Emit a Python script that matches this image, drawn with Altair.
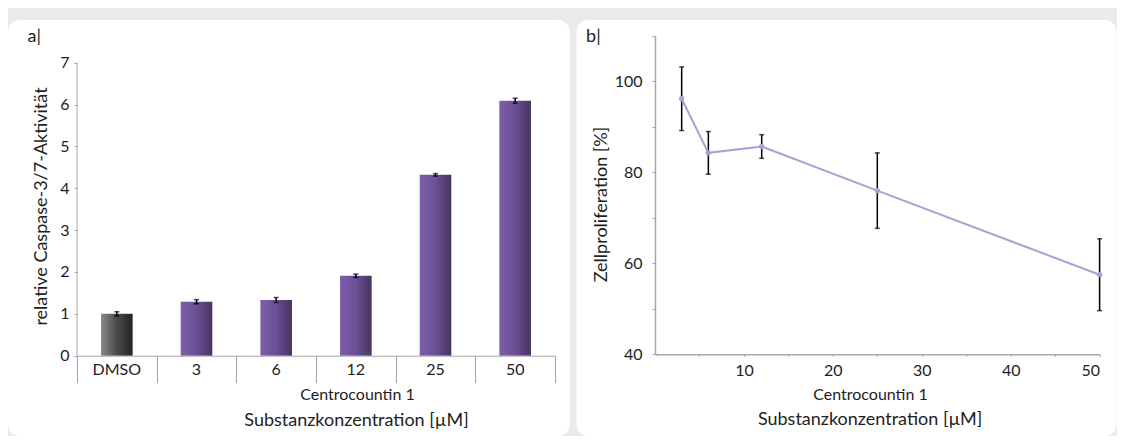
import altair as alt
import pandas as pd

# ---- data ----
categories = ["DMSO", "3", "6", "12", "25", "50"]
caspase = [1.00, 1.29, 1.33, 1.91, 4.32, 6.09]
caspase_err = [0.05, 0.05, 0.06, 0.04, 0.03, 0.06]

conc = [3, 6, 12, 25, 50]
prolif = [96.2, 84.3, 85.7, 76.0, 57.5]
prolif_err = [7.0, 4.7, 2.6, 8.3, 7.9]

y_ticks_a = [0, 1, 2, 3, 4, 5, 6, 7]
y_ticks_b = [40, 50, 60, 70, 80, 90, 100, 110]
x_ticks_b = [5, 10, 15, 20, 25, 30, 35, 40, 45, 50]

FONT = "Lato"
GREY = "#a6a6a6"
TXT = "#1e1e1e"
LINE = "#ad9fd3"

df_a = pd.DataFrame({"cat": categories, "val": caspase, "err": caspase_err})
df_b = pd.DataFrame({"conc": conc, "val": prolif, "err": prolif_err})

# ---------------- panel a ----------------
# plot area top is shared with panel b; the axis line itself stops at 7
WA, HA = 478, 319.7
xs_a = alt.Scale(domain=categories, paddingInner=0, paddingOuter=0)
ys_a = alt.Scale(domain=[0, 7.637], nice=False, zero=False)
y_axis_a = alt.Axis(title="relative Caspase-3/7-Aktivität", values=y_ticks_a, grid=False,
                    domain=False, tickColor=GREY, tickSize=3, labelPadding=5,
                    labelFontSize=16, titleFontSize=18, titleX=-36, titleY=170,
                    titleAngle=270, titleAlign="center", titleBaseline="middle", zindex=1)

bg_a = alt.Chart(alt.Data(values=[{}])).mark_rect(color="white", cornerRadius=12).encode(
    x=alt.value(-69), x2=alt.value(493), y=alt.value(-16), y2=alt.value(400))

yline_a = alt.Chart(alt.Data(values=[{}])).mark_rule(color=GREY, strokeWidth=1).encode(
    x=alt.value(0), y=alt.Y(datum=0, scale=ys_a, axis=y_axis_a), y2=alt.datum(7))

base_a = alt.Chart(df_a)

purple = alt.LinearGradient(gradient="linear", x1=0, x2=1, y1=0, y2=0, stops=[
    alt.GradientStop(color="#7d5ea8", offset=0),
    alt.GradientStop(color="#6a5096", offset=0.5),
    alt.GradientStop(color="#45345f", offset=1)])
greyg = alt.LinearGradient(gradient="linear", x1=0, x2=1, y1=0, y2=0, stops=[
    alt.GradientStop(color="#8a8a8a", offset=0),
    alt.GradientStop(color="#4a4a4a", offset=0.5),
    alt.GradientStop(color="#222222", offset=1)])

dmso = base_a.transform_filter("datum.cat == 'DMSO'").mark_bar(color=greyg, width=31.6).encode(
    x=alt.X("cat:N", scale=xs_a, axis=alt.Axis(
        orient="bottom", title="Centrocountin 1", domain=False, labels=False, ticks=True,
        tickBand="extent", tickSize=27, tickColor=GREY, titleFontSize=16,
        titleX=280, titleY=39, titleAlign="center", titleBaseline="middle", zindex=1)),
    y=alt.Y("val:Q", scale=ys_a, axis=y_axis_a))

bars = base_a.transform_filter("datum.cat != 'DMSO'").mark_bar(color=purple, width=31.6).encode(
    x=alt.X("cat:N", scale=xs_a, axis=alt.Axis(
        orient="bottom", title="Substanzkonzentration [µM]", ticks=False, labelAngle=0,
        labelPadding=13.6, labelBaseline="middle", labelFontSize=16, domainColor=GREY,
        titleFontSize=18, titleX=279, titleY=65, titleAlign="center",
        titleBaseline="middle", zindex=1)),
    y=alt.Y("val:Q", scale=ys_a, axis=y_axis_a))

err_rule_a = base_a.transform_calculate(
    lo="datum.val - datum.err", hi="datum.val + datum.err").mark_rule(
    color="black", strokeWidth=1.5).encode(
    x=alt.X("cat:N", scale=xs_a, axis=alt.Axis(
        orient="top", title="a|", domain=False, labels=False, ticks=False, titleFontSize=18,
        titleX=-50, titleY=0, titleAlign="left", titleBaseline="middle", zindex=1)),
    y=alt.Y("lo:Q", scale=ys_a, axis=y_axis_a), y2="hi:Q")

err_tick_a = base_a.transform_calculate(
    lo="datum.val - datum.err", hi="datum.val + datum.err").transform_fold(
    ["lo", "hi"], as_=["k", "v"]).mark_tick(
    color="black", orient="horizontal", size=5, thickness=1.5).encode(
    x=alt.X("cat:N", scale=xs_a, axis=None),
    y=alt.Y("v:Q", scale=ys_a, axis=y_axis_a))

panel_a = alt.layer(bg_a, yline_a, dmso, bars, err_rule_a, err_tick_a).resolve_axis(
    x="independent").properties(width=WA, height=HA)

# ---------------- panel b ----------------
WB, HB = 444.6, 318.3
xs_b = alt.Scale(domain=[0, 50], nice=False, zero=False)
ys_b = alt.Scale(domain=[40, 110], nice=False, zero=False)
y_axis_b = alt.Axis(title="Zellproliferation [%]", values=y_ticks_b,
                    labelExpr="datum.value % 20 == 0 ? datum.label : ''", grid=False,
                    domainColor=GREY, domainWidth=1.5, tickColor=GREY, tickSize=3,
                    labelPadding=10, labelFontSize=16, titleFontSize=18,
                    titleX=-54, titleY=168, titleAngle=270, titleAlign="center",
                    titleBaseline="middle", zindex=1)

bg_b = alt.Chart(alt.Data(values=[{}])).mark_rect(color="white", cornerRadius=12).encode(
    x=alt.value(-78.4), x2=alt.value(461.6), y=alt.value(-16), y2=alt.value(400))

base_b = alt.Chart(df_b)

line_b = base_b.mark_line(color=LINE, strokeWidth=2).encode(
    x=alt.X("conc:Q", scale=xs_b, axis=alt.Axis(
        orient="bottom", title="Substanzkonzentration [µM]", values=x_ticks_b,
        labelExpr="datum.value % 10 == 0 ? datum.label : ''", grid=False,
        domainColor=GREY, domainWidth=1.5, tickColor=GREY, tickSize=2,
        labelPadding=13.7, labelBaseline="middle", labelFontSize=16,
        titleFontSize=18, titleX=214.6, titleY=65.5, titleAlign="center",
        titleBaseline="middle", zindex=1)),
    y=alt.Y("val:Q", scale=ys_b, axis=y_axis_b))

pts_b = base_b.mark_point(filled=True, size=28, color=LINE, opacity=1).encode(
    x=alt.X("conc:Q", scale=xs_b, axis=alt.Axis(
        orient="bottom", title="Centrocountin 1", domain=False, labels=False, ticks=False,
        grid=False, titleFontSize=16, titleX=215, titleY=40, titleAlign="center",
        titleBaseline="middle", zindex=1)),
    y=alt.Y("val:Q", scale=ys_b, axis=y_axis_b))

err_rule_b = base_b.transform_calculate(
    lo="datum.val - datum.err", hi="datum.val + datum.err").mark_rule(
    color="black", strokeWidth=1.5).encode(
    x=alt.X("conc:Q", scale=xs_b, axis=alt.Axis(
        orient="top", title="b|", domain=False, labels=False, ticks=False, grid=False,
        titleFontSize=18, titleX=-69.4, titleY=0, titleAlign="left",
        titleBaseline="middle", zindex=1)),
    y=alt.Y("lo:Q", scale=ys_b, axis=y_axis_b), y2="hi:Q")

err_tick_b = base_b.transform_calculate(
    lo="datum.val - datum.err", hi="datum.val + datum.err").transform_fold(
    ["lo", "hi"], as_=["k", "v"]).mark_tick(
    color="black", orient="horizontal", size=5, thickness=1.5).encode(
    x=alt.X("conc:Q", scale=xs_b, axis=None),
    y=alt.Y("v:Q", scale=ys_b, axis=y_axis_b))

panel_b = alt.layer(bg_b, err_rule_b, err_tick_b, line_b, pts_b).resolve_axis(
    x="independent").properties(width=WB, height=HB)

chart = alt.hconcat(panel_a, panel_b, spacing=6).properties(
    background="#ebebeb",
    padding={"left": 0, "top": 12, "right": 0, "bottom": 0},
).configure_view(strokeWidth=0).configure_axis(
    labelFont=FONT, titleFont=FONT, labelColor=TXT, titleColor=TXT,
    titleFontWeight="normal")

chart.save("out.html", embed_options={"renderer": "svg", "actions": False})
